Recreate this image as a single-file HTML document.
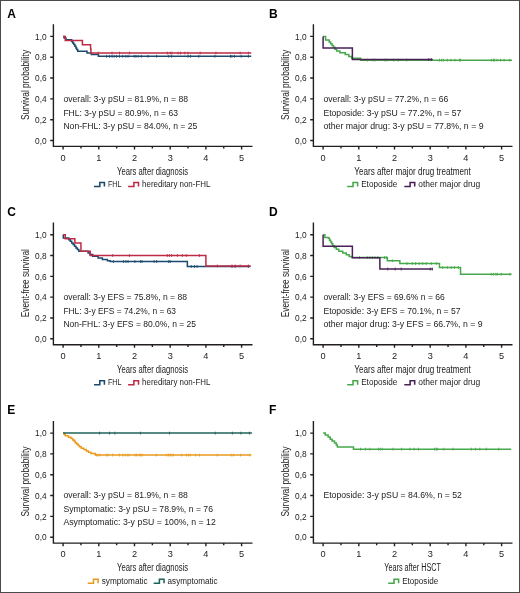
<!DOCTYPE html>
<html><head><meta charset="utf-8"><style>
html,body{margin:0;padding:0;background:#fff;}
svg{display:block;font-family:"Liberation Sans", sans-serif;will-change:transform;}
</style></head><body>
<svg width="520" height="593" viewBox="0 0 520 593">
<rect x="0" y="0" width="520" height="593" fill="#fff"/>
<rect x="0.5" y="0.5" width="519" height="592" fill="none" stroke="#4a4a4a" stroke-width="1"/>
<text x="7.30" y="17.50" font-size="12" font-weight="bold" fill="#000">A</text>
<path d="M53.40 24.20 V146.40 H252.50" fill="none" stroke="#231f20" stroke-width="1.4"/>
<text x="46.70" y="143.70" font-size="9.2" text-anchor="end" textLength="11.6" lengthAdjust="spacingAndGlyphs" fill="#222222">0,0</text>
<text x="46.70" y="122.88" font-size="9.2" text-anchor="end" textLength="11.6" lengthAdjust="spacingAndGlyphs" fill="#222222">0,2</text>
<text x="46.70" y="102.06" font-size="9.2" text-anchor="end" textLength="11.6" lengthAdjust="spacingAndGlyphs" fill="#222222">0,4</text>
<text x="46.70" y="81.24" font-size="9.2" text-anchor="end" textLength="11.6" lengthAdjust="spacingAndGlyphs" fill="#222222">0,6</text>
<text x="46.70" y="60.42" font-size="9.2" text-anchor="end" textLength="11.6" lengthAdjust="spacingAndGlyphs" fill="#222222">0,8</text>
<text x="46.70" y="39.60" font-size="9.2" text-anchor="end" textLength="11.6" lengthAdjust="spacingAndGlyphs" fill="#222222">1,0</text>
<text x="63.10" y="160.50" font-size="9.2" text-anchor="middle" fill="#222222">0</text>
<text x="98.80" y="160.50" font-size="9.2" text-anchor="middle" fill="#222222">1</text>
<text x="134.50" y="160.50" font-size="9.2" text-anchor="middle" fill="#222222">2</text>
<text x="170.20" y="160.50" font-size="9.2" text-anchor="middle" fill="#222222">3</text>
<text x="205.90" y="160.50" font-size="9.2" text-anchor="middle" fill="#222222">4</text>
<text x="241.60" y="160.50" font-size="9.2" text-anchor="middle" fill="#222222">5</text>
<path d="M50.20 140.50 H53.40 M50.20 119.68 H53.40 M50.20 98.86 H53.40 M50.20 78.04 H53.40 M50.20 57.22 H53.40 M50.20 36.40 H53.40 M63.10 146.40 V149.50 M80.95 146.40 V148.60 M98.80 146.40 V149.50 M116.65 146.40 V148.60 M134.50 146.40 V149.50 M152.35 146.40 V148.60 M170.20 146.40 V149.50 M188.05 146.40 V148.60 M205.90 146.40 V149.50 M223.75 146.40 V148.60 M241.60 146.40 V149.50" fill="none" stroke="#231f20" stroke-width="1.4"/>
<text transform="translate(28.60,84.90) rotate(-90)" x="0" y="0" font-size="10" text-anchor="middle" textLength="70" lengthAdjust="spacingAndGlyphs" fill="#222222">Survival probability</text>
<text x="152.60" y="174.70" font-size="10" text-anchor="middle" textLength="71.2" lengthAdjust="spacingAndGlyphs" fill="#222222">Years after diagnosis</text>
<text x="63.40" y="101.60" font-size="8.6" textLength="124.7" lengthAdjust="spacingAndGlyphs" fill="#222222">overall: 3-y pSU = 81.9%, n = 88</text>
<text x="63.40" y="115.70" font-size="8.6" textLength="114.6" lengthAdjust="spacingAndGlyphs" fill="#222222">FHL: 3-y pSU = 80.9%, n = 63</text>
<text x="63.40" y="128.60" font-size="8.6" textLength="133.9" lengthAdjust="spacingAndGlyphs" fill="#222222">Non-FHL: 3-y pSU = 84.0%, n = 25</text>
<path d="M94.00 186.50 H99.80 V182.50 H104.40 V186.50" fill="none" stroke="#1b4a6e" stroke-width="1.55"/>
<text x="108.00" y="187.10" font-size="8.3" textLength="13.5" lengthAdjust="spacingAndGlyphs" fill="#222222">FHL</text>
<path d="M128.10 186.50 H133.90 V182.50 H138.50 V186.50" fill="none" stroke="#bd2b46" stroke-width="1.55"/>
<text x="142.10" y="187.10" font-size="8.3" textLength="68.3" lengthAdjust="spacingAndGlyphs" fill="#222222">hereditary non-FHL</text>
<path d="M63.10 36.40 H64.17 V38.07 H65.96 V39.73 H71.67 V41.40 H72.74 V42.96 H73.81 V44.62 H74.88 V46.29 H75.95 V47.96 H76.67 V49.62 H77.74 V51.29 H87.02 V52.95 H91.30 V54.62 H98.44 V56.28 H251.24" fill="none" stroke="#1b4a6e" stroke-width="1.5" stroke-linejoin="miter"/>
<path d="M106.65 54.88 V57.68 M109.51 54.88 V57.68 M112.01 54.88 V57.68 M114.15 54.88 V57.68 M116.65 54.88 V57.68 M119.51 54.88 V57.68 M122.72 54.88 V57.68 M125.93 54.88 V57.68 M128.07 54.88 V57.68 M134.14 54.88 V57.68 M135.93 54.88 V57.68 M138.07 54.88 V57.68 M141.28 54.88 V57.68 M148.07 54.88 V57.68 M156.63 54.88 V57.68 M168.77 54.88 V57.68 M171.63 54.88 V57.68 M188.05 54.88 V57.68 M190.55 54.88 V57.68 M198.76 54.88 V57.68 M214.83 54.88 V57.68 M230.53 54.88 V57.68 M231.96 54.88 V57.68 M234.46 54.88 V57.68 M241.24 54.88 V57.68 M248.38 54.88 V57.68" fill="none" stroke="#1b4a6e" stroke-width="0.9"/>
<path d="M63.10 36.40 H65.24 V40.56 H82.38 V44.73 H90.59 V48.89 H90.95 V53.06 H251.24" fill="none" stroke="#bd2b46" stroke-width="1.5" stroke-linejoin="miter"/>
<path d="M98.09 51.66 V54.46 M112.01 51.66 V54.46 M119.51 51.66 V54.46 M129.50 51.66 V54.46 M167.34 51.66 V54.46 M170.20 51.66 V54.46 M171.99 51.66 V54.46 M178.05 51.66 V54.46 M180.55 51.66 V54.46 M184.84 51.66 V54.46 M188.05 51.66 V54.46 M200.19 51.66 V54.46 M215.90 51.66 V54.46 M240.17 51.66 V54.46 M248.38 51.66 V54.46" fill="none" stroke="#bd2b46" stroke-width="0.9"/>
<text x="268.90" y="17.50" font-size="12" font-weight="bold" fill="#000">B</text>
<path d="M313.40 24.20 V146.40 H512.50" fill="none" stroke="#231f20" stroke-width="1.4"/>
<text x="306.70" y="143.70" font-size="9.2" text-anchor="end" textLength="11.6" lengthAdjust="spacingAndGlyphs" fill="#222222">0,0</text>
<text x="306.70" y="122.88" font-size="9.2" text-anchor="end" textLength="11.6" lengthAdjust="spacingAndGlyphs" fill="#222222">0,2</text>
<text x="306.70" y="102.06" font-size="9.2" text-anchor="end" textLength="11.6" lengthAdjust="spacingAndGlyphs" fill="#222222">0,4</text>
<text x="306.70" y="81.24" font-size="9.2" text-anchor="end" textLength="11.6" lengthAdjust="spacingAndGlyphs" fill="#222222">0,6</text>
<text x="306.70" y="60.42" font-size="9.2" text-anchor="end" textLength="11.6" lengthAdjust="spacingAndGlyphs" fill="#222222">0,8</text>
<text x="306.70" y="39.60" font-size="9.2" text-anchor="end" textLength="11.6" lengthAdjust="spacingAndGlyphs" fill="#222222">1,0</text>
<text x="323.10" y="160.50" font-size="9.2" text-anchor="middle" fill="#222222">0</text>
<text x="358.80" y="160.50" font-size="9.2" text-anchor="middle" fill="#222222">1</text>
<text x="394.50" y="160.50" font-size="9.2" text-anchor="middle" fill="#222222">2</text>
<text x="430.20" y="160.50" font-size="9.2" text-anchor="middle" fill="#222222">3</text>
<text x="465.90" y="160.50" font-size="9.2" text-anchor="middle" fill="#222222">4</text>
<text x="501.60" y="160.50" font-size="9.2" text-anchor="middle" fill="#222222">5</text>
<path d="M310.20 140.50 H313.40 M310.20 119.68 H313.40 M310.20 98.86 H313.40 M310.20 78.04 H313.40 M310.20 57.22 H313.40 M310.20 36.40 H313.40 M323.10 146.40 V149.50 M340.95 146.40 V148.60 M358.80 146.40 V149.50 M376.65 146.40 V148.60 M394.50 146.40 V149.50 M412.35 146.40 V148.60 M430.20 146.40 V149.50 M448.05 146.40 V148.60 M465.90 146.40 V149.50 M483.75 146.40 V148.60 M501.60 146.40 V149.50" fill="none" stroke="#231f20" stroke-width="1.4"/>
<text transform="translate(288.60,84.90) rotate(-90)" x="0" y="0" font-size="10" text-anchor="middle" textLength="70" lengthAdjust="spacingAndGlyphs" fill="#222222">Survival probability</text>
<text x="412.60" y="174.70" font-size="10" text-anchor="middle" textLength="116.5" lengthAdjust="spacingAndGlyphs" fill="#222222">Years after major drug treatment</text>
<text x="323.40" y="101.60" font-size="8.6" textLength="124.9" lengthAdjust="spacingAndGlyphs" fill="#222222">overall: 3-y pSU = 77.2%, n = 66</text>
<text x="323.40" y="115.70" font-size="8.6" textLength="137.9" lengthAdjust="spacingAndGlyphs" fill="#222222">Etoposide: 3-y pSU = 77.2%, n = 57</text>
<text x="323.40" y="128.60" font-size="8.6" textLength="160.2" lengthAdjust="spacingAndGlyphs" fill="#222222">other major drug: 3-y pSU = 77.8%, n = 9</text>
<path d="M347.20 186.50 H353.00 V182.50 H357.60 V186.50" fill="none" stroke="#47a84b" stroke-width="1.55"/>
<text x="361.20" y="187.10" font-size="8.3" textLength="36.2" lengthAdjust="spacingAndGlyphs" fill="#222222">Etoposide</text>
<path d="M404.30 186.50 H410.10 V182.50 H414.70 V186.50" fill="none" stroke="#4a2156" stroke-width="1.55"/>
<text x="418.30" y="187.10" font-size="8.3" textLength="61.8" lengthAdjust="spacingAndGlyphs" fill="#222222">other major drug</text>
<path d="M323.10 36.40 H325.60 V40.04 H329.17 V41.92 H330.60 V43.69 H332.03 V45.56 H333.45 V47.33 H334.88 V49.20 H336.67 V50.97 H339.88 V52.85 H345.23 V54.62 H348.80 V56.49 H351.66 V58.26 H360.59 V60.13 H511.95" fill="none" stroke="#47a84b" stroke-width="1.5" stroke-linejoin="miter"/>
<path d="M367.37 58.73 V61.53 M372.72 58.73 V61.53 M374.87 58.73 V61.53 M384.86 58.73 V61.53 M386.65 58.73 V61.53 M393.43 58.73 V61.53 M398.07 58.73 V61.53 M406.64 58.73 V61.53 M439.48 58.73 V61.53 M441.62 58.73 V61.53 M443.41 58.73 V61.53 M447.34 58.73 V61.53 M450.91 58.73 V61.53 M454.83 58.73 V61.53 M459.47 58.73 V61.53 M460.55 58.73 V61.53 M491.25 58.73 V61.53 M493.39 58.73 V61.53 M494.46 58.73 V61.53 M496.96 58.73 V61.53 M500.53 58.73 V61.53 M504.10 58.73 V61.53 M509.81 58.73 V61.53" fill="none" stroke="#47a84b" stroke-width="0.9"/>
<path d="M323.10 36.40 H323.10 V47.96 H352.37 V59.51 H432.70" fill="none" stroke="#4a2156" stroke-width="1.5" stroke-linejoin="miter"/>
<path d="M428.77 58.11 V60.91 M431.27 58.11 V60.91" fill="none" stroke="#4a2156" stroke-width="0.9"/>
<text x="7.30" y="215.80" font-size="12" font-weight="bold" fill="#000">C</text>
<path d="M53.40 222.50 V344.70 H252.50" fill="none" stroke="#231f20" stroke-width="1.4"/>
<text x="46.70" y="342.00" font-size="9.2" text-anchor="end" textLength="11.6" lengthAdjust="spacingAndGlyphs" fill="#222222">0,0</text>
<text x="46.70" y="321.18" font-size="9.2" text-anchor="end" textLength="11.6" lengthAdjust="spacingAndGlyphs" fill="#222222">0,2</text>
<text x="46.70" y="300.36" font-size="9.2" text-anchor="end" textLength="11.6" lengthAdjust="spacingAndGlyphs" fill="#222222">0,4</text>
<text x="46.70" y="279.54" font-size="9.2" text-anchor="end" textLength="11.6" lengthAdjust="spacingAndGlyphs" fill="#222222">0,6</text>
<text x="46.70" y="258.72" font-size="9.2" text-anchor="end" textLength="11.6" lengthAdjust="spacingAndGlyphs" fill="#222222">0,8</text>
<text x="46.70" y="237.90" font-size="9.2" text-anchor="end" textLength="11.6" lengthAdjust="spacingAndGlyphs" fill="#222222">1,0</text>
<text x="63.10" y="358.80" font-size="9.2" text-anchor="middle" fill="#222222">0</text>
<text x="98.80" y="358.80" font-size="9.2" text-anchor="middle" fill="#222222">1</text>
<text x="134.50" y="358.80" font-size="9.2" text-anchor="middle" fill="#222222">2</text>
<text x="170.20" y="358.80" font-size="9.2" text-anchor="middle" fill="#222222">3</text>
<text x="205.90" y="358.80" font-size="9.2" text-anchor="middle" fill="#222222">4</text>
<text x="241.60" y="358.80" font-size="9.2" text-anchor="middle" fill="#222222">5</text>
<path d="M50.20 338.80 H53.40 M50.20 317.98 H53.40 M50.20 297.16 H53.40 M50.20 276.34 H53.40 M50.20 255.52 H53.40 M50.20 234.70 H53.40 M63.10 344.70 V347.80 M80.95 344.70 V346.90 M98.80 344.70 V347.80 M116.65 344.70 V346.90 M134.50 344.70 V347.80 M152.35 344.70 V346.90 M170.20 344.70 V347.80 M188.05 344.70 V346.90 M205.90 344.70 V347.80 M223.75 344.70 V346.90 M241.60 344.70 V347.80" fill="none" stroke="#231f20" stroke-width="1.4"/>
<text transform="translate(28.60,283.20) rotate(-90)" x="0" y="0" font-size="10" text-anchor="middle" textLength="68" lengthAdjust="spacingAndGlyphs" fill="#222222">Event-free survival</text>
<text x="152.60" y="373.00" font-size="10" text-anchor="middle" textLength="71.2" lengthAdjust="spacingAndGlyphs" fill="#222222">Years after diagnosis</text>
<text x="63.40" y="299.90" font-size="8.6" textLength="123.5" lengthAdjust="spacingAndGlyphs" fill="#222222">overall: 3-y EFS = 75.8%, n = 88</text>
<text x="63.40" y="314.00" font-size="8.6" textLength="112.6" lengthAdjust="spacingAndGlyphs" fill="#222222">FHL: 3-y EFS = 74.2%, n = 63</text>
<text x="63.40" y="326.90" font-size="8.6" textLength="132.7" lengthAdjust="spacingAndGlyphs" fill="#222222">Non-FHL: 3-y EFS = 80.0%, n = 25</text>
<path d="M94.00 384.80 H99.80 V380.80 H104.40 V384.80" fill="none" stroke="#1b4a6e" stroke-width="1.55"/>
<text x="108.00" y="385.40" font-size="8.3" textLength="13.5" lengthAdjust="spacingAndGlyphs" fill="#222222">FHL</text>
<path d="M128.10 384.80 H133.90 V380.80 H138.50 V384.80" fill="none" stroke="#bd2b46" stroke-width="1.55"/>
<text x="142.10" y="385.40" font-size="8.3" textLength="68.3" lengthAdjust="spacingAndGlyphs" fill="#222222">hereditary non-FHL</text>
<path d="M63.10 234.70 H63.28 V238.03 H68.81 V239.70 H70.24 V241.26 H71.67 V242.92 H73.10 V244.59 H74.52 V246.26 H75.95 V247.92 H77.38 V249.59 H78.81 V251.25 H88.09 V252.92 H89.88 V254.58 H92.73 V256.25 H98.09 V257.91 H102.37 V259.48 H107.37 V260.73 H110.22 V261.56 H187.34 V266.45 H250.53" fill="none" stroke="#1b4a6e" stroke-width="1.5" stroke-linejoin="miter"/>
<path d="M113.44 260.16 V262.96 M123.43 260.16 V262.96 M125.93 260.16 V262.96 M128.07 260.16 V262.96 M134.86 260.16 V262.96 M140.57 260.16 V262.96 M142.00 260.16 V262.96 M154.13 260.16 V262.96 M156.63 260.16 V262.96 M168.77 260.16 V262.96 M170.20 260.16 V262.96 M191.26 265.05 V267.85 M194.48 265.05 V267.85 M196.97 265.05 V267.85 M231.96 265.05 V267.85 M235.17 265.05 V267.85 M248.38 265.05 V267.85" fill="none" stroke="#1b4a6e" stroke-width="0.9"/>
<path d="M63.10 234.70 H65.24 V238.66 H74.88 V243.03 H80.95 V251.36 H90.23 V255.52 H205.90 V265.93 H250.53" fill="none" stroke="#bd2b46" stroke-width="1.5" stroke-linejoin="miter"/>
<path d="M112.72 254.12 V256.92 M129.50 254.12 V256.92 M167.34 254.12 V256.92 M169.49 254.12 V256.92 M171.63 254.12 V256.92 M177.34 254.12 V256.92 M182.34 254.12 V256.92 M186.27 254.12 V256.92 M199.47 254.12 V256.92 M217.32 264.53 V267.33 M231.96 264.53 V267.33 M235.17 264.53 V267.33 M240.17 264.53 V267.33 M248.38 264.53 V267.33" fill="none" stroke="#bd2b46" stroke-width="0.9"/>
<text x="268.90" y="215.80" font-size="12" font-weight="bold" fill="#000">D</text>
<path d="M313.40 222.50 V344.70 H512.50" fill="none" stroke="#231f20" stroke-width="1.4"/>
<text x="306.70" y="342.00" font-size="9.2" text-anchor="end" textLength="11.6" lengthAdjust="spacingAndGlyphs" fill="#222222">0,0</text>
<text x="306.70" y="321.18" font-size="9.2" text-anchor="end" textLength="11.6" lengthAdjust="spacingAndGlyphs" fill="#222222">0,2</text>
<text x="306.70" y="300.36" font-size="9.2" text-anchor="end" textLength="11.6" lengthAdjust="spacingAndGlyphs" fill="#222222">0,4</text>
<text x="306.70" y="279.54" font-size="9.2" text-anchor="end" textLength="11.6" lengthAdjust="spacingAndGlyphs" fill="#222222">0,6</text>
<text x="306.70" y="258.72" font-size="9.2" text-anchor="end" textLength="11.6" lengthAdjust="spacingAndGlyphs" fill="#222222">0,8</text>
<text x="306.70" y="237.90" font-size="9.2" text-anchor="end" textLength="11.6" lengthAdjust="spacingAndGlyphs" fill="#222222">1,0</text>
<text x="323.10" y="358.80" font-size="9.2" text-anchor="middle" fill="#222222">0</text>
<text x="358.80" y="358.80" font-size="9.2" text-anchor="middle" fill="#222222">1</text>
<text x="394.50" y="358.80" font-size="9.2" text-anchor="middle" fill="#222222">2</text>
<text x="430.20" y="358.80" font-size="9.2" text-anchor="middle" fill="#222222">3</text>
<text x="465.90" y="358.80" font-size="9.2" text-anchor="middle" fill="#222222">4</text>
<text x="501.60" y="358.80" font-size="9.2" text-anchor="middle" fill="#222222">5</text>
<path d="M310.20 338.80 H313.40 M310.20 317.98 H313.40 M310.20 297.16 H313.40 M310.20 276.34 H313.40 M310.20 255.52 H313.40 M310.20 234.70 H313.40 M323.10 344.70 V347.80 M340.95 344.70 V346.90 M358.80 344.70 V347.80 M376.65 344.70 V346.90 M394.50 344.70 V347.80 M412.35 344.70 V346.90 M430.20 344.70 V347.80 M448.05 344.70 V346.90 M465.90 344.70 V347.80 M483.75 344.70 V346.90 M501.60 344.70 V347.80" fill="none" stroke="#231f20" stroke-width="1.4"/>
<text transform="translate(288.60,283.20) rotate(-90)" x="0" y="0" font-size="10" text-anchor="middle" textLength="68" lengthAdjust="spacingAndGlyphs" fill="#222222">Event-free survival</text>
<text x="412.60" y="373.00" font-size="10" text-anchor="middle" textLength="116.5" lengthAdjust="spacingAndGlyphs" fill="#222222">Years after major drug treatment</text>
<text x="323.40" y="299.90" font-size="8.6" textLength="121.4" lengthAdjust="spacingAndGlyphs" fill="#222222">overall: 3-y EFS = 69.6% n = 66</text>
<text x="323.40" y="314.00" font-size="8.6" textLength="137.2" lengthAdjust="spacingAndGlyphs" fill="#222222">Etoposide: 3-y EFS = 70.1%, n = 57</text>
<text x="323.40" y="326.90" font-size="8.6" textLength="159.1" lengthAdjust="spacingAndGlyphs" fill="#222222">other major drug: 3-y EFS = 66.7%, n = 9</text>
<path d="M347.20 384.80 H353.00 V380.80 H357.60 V384.80" fill="none" stroke="#47a84b" stroke-width="1.55"/>
<text x="361.20" y="385.40" font-size="8.3" textLength="36.2" lengthAdjust="spacingAndGlyphs" fill="#222222">Etoposide</text>
<path d="M404.30 384.80 H410.10 V380.80 H414.70 V384.80" fill="none" stroke="#4a2156" stroke-width="1.55"/>
<text x="418.30" y="385.40" font-size="8.3" textLength="61.8" lengthAdjust="spacingAndGlyphs" fill="#222222">other major drug</text>
<path d="M323.10 234.70 H324.89 V237.51 H328.46 V238.34 H329.53 V240.22 H330.60 V241.99 H331.67 V243.86 H332.74 V245.63 H334.17 V247.50 H336.31 V249.27 H338.81 V251.15 H342.74 V252.92 H346.31 V254.79 H349.16 V256.56 H352.02 V257.60 H387.36 V260.73 H399.86 V263.54 H439.48 V267.49 H460.55 V274.26 H511.60" fill="none" stroke="#47a84b" stroke-width="1.5" stroke-linejoin="miter"/>
<path d="M359.51 256.20 V259.00 M367.37 256.20 V259.00 M369.87 256.20 V259.00 M372.37 256.20 V259.00 M374.87 256.20 V259.00 M377.72 256.20 V259.00 M384.50 256.20 V259.00 M386.29 256.20 V259.00 M392.36 259.33 V262.12 M407.00 262.14 V264.94 M412.35 262.14 V264.94 M415.56 262.14 V264.94 M419.13 262.14 V264.94 M422.70 262.14 V264.94 M426.27 262.14 V264.94 M431.27 262.14 V264.94 M436.63 262.14 V264.94 M442.70 266.09 V268.89 M447.34 266.09 V268.89 M451.26 266.09 V268.89 M454.48 266.09 V268.89 M458.40 266.09 V268.89 M491.25 272.86 V275.66 M493.39 272.86 V275.66 M495.89 272.86 V275.66 M497.32 272.86 V275.66 M501.24 272.86 V275.66 M509.81 272.86 V275.66" fill="none" stroke="#47a84b" stroke-width="0.9"/>
<path d="M323.10 234.70 H323.10 V246.26 H352.37 V257.81 H379.86 V269.05 H432.70" fill="none" stroke="#4a2156" stroke-width="1.5" stroke-linejoin="miter"/>
<path d="M387.72 267.65 V270.45 M395.21 267.65 V270.45 M401.28 267.65 V270.45 M430.20 267.65 V270.45 M432.34 267.65 V270.45" fill="none" stroke="#4a2156" stroke-width="0.9"/>
<text x="7.30" y="414.20" font-size="12" font-weight="bold" fill="#000">E</text>
<path d="M53.40 420.90 V543.10 H252.50" fill="none" stroke="#231f20" stroke-width="1.4"/>
<text x="46.70" y="540.40" font-size="9.2" text-anchor="end" textLength="11.6" lengthAdjust="spacingAndGlyphs" fill="#222222">0,0</text>
<text x="46.70" y="519.58" font-size="9.2" text-anchor="end" textLength="11.6" lengthAdjust="spacingAndGlyphs" fill="#222222">0,2</text>
<text x="46.70" y="498.76" font-size="9.2" text-anchor="end" textLength="11.6" lengthAdjust="spacingAndGlyphs" fill="#222222">0,4</text>
<text x="46.70" y="477.94" font-size="9.2" text-anchor="end" textLength="11.6" lengthAdjust="spacingAndGlyphs" fill="#222222">0,6</text>
<text x="46.70" y="457.12" font-size="9.2" text-anchor="end" textLength="11.6" lengthAdjust="spacingAndGlyphs" fill="#222222">0,8</text>
<text x="46.70" y="436.30" font-size="9.2" text-anchor="end" textLength="11.6" lengthAdjust="spacingAndGlyphs" fill="#222222">1,0</text>
<text x="63.10" y="557.20" font-size="9.2" text-anchor="middle" fill="#222222">0</text>
<text x="98.80" y="557.20" font-size="9.2" text-anchor="middle" fill="#222222">1</text>
<text x="134.50" y="557.20" font-size="9.2" text-anchor="middle" fill="#222222">2</text>
<text x="170.20" y="557.20" font-size="9.2" text-anchor="middle" fill="#222222">3</text>
<text x="205.90" y="557.20" font-size="9.2" text-anchor="middle" fill="#222222">4</text>
<text x="241.60" y="557.20" font-size="9.2" text-anchor="middle" fill="#222222">5</text>
<path d="M50.20 537.20 H53.40 M50.20 516.38 H53.40 M50.20 495.56 H53.40 M50.20 474.74 H53.40 M50.20 453.92 H53.40 M50.20 433.10 H53.40 M63.10 543.10 V546.20 M80.95 543.10 V545.30 M98.80 543.10 V546.20 M116.65 543.10 V545.30 M134.50 543.10 V546.20 M152.35 543.10 V545.30 M170.20 543.10 V546.20 M188.05 543.10 V545.30 M205.90 543.10 V546.20 M223.75 543.10 V545.30 M241.60 543.10 V546.20" fill="none" stroke="#231f20" stroke-width="1.4"/>
<text transform="translate(28.60,481.60) rotate(-90)" x="0" y="0" font-size="10" text-anchor="middle" textLength="70" lengthAdjust="spacingAndGlyphs" fill="#222222">Survival probability</text>
<text x="152.60" y="571.40" font-size="10" text-anchor="middle" textLength="71.2" lengthAdjust="spacingAndGlyphs" fill="#222222">Years after diagnosis</text>
<text x="63.40" y="498.30" font-size="8.6" textLength="124.4" lengthAdjust="spacingAndGlyphs" fill="#222222">overall: 3-y pSU = 81.9%, n = 88</text>
<text x="63.40" y="512.40" font-size="8.6" textLength="149.6" lengthAdjust="spacingAndGlyphs" fill="#222222">Symptomatic: 3-y pSU = 78.9%, n = 76</text>
<text x="63.40" y="525.30" font-size="8.6" textLength="152.4" lengthAdjust="spacingAndGlyphs" fill="#222222">Asymptomatic: 3-y pSU = 100%, n = 12</text>
<path d="M87.70 583.20 H93.50 V579.20 H98.10 V583.20" fill="none" stroke="#e99b1f" stroke-width="1.55"/>
<text x="101.70" y="583.80" font-size="8.3" textLength="46" lengthAdjust="spacingAndGlyphs" fill="#222222">symptomatic</text>
<path d="M153.60 583.20 H159.40 V579.20 H164.00 V583.20" fill="none" stroke="#1f6358" stroke-width="1.55"/>
<text x="167.60" y="583.80" font-size="8.3" textLength="50" lengthAdjust="spacingAndGlyphs" fill="#222222">asymptomatic</text>
<path d="M63.10 433.10 H64.17 V434.45 H65.24 V435.81 H68.45 V437.16 H70.95 V438.62 H72.74 V439.97 H74.17 V441.32 H75.24 V442.68 H76.67 V444.03 H78.09 V445.38 H79.52 V446.84 H81.31 V448.19 H83.81 V449.55 H86.31 V450.90 H88.45 V452.25 H90.95 V453.61 H95.23 V455.07 H251.24" fill="none" stroke="#e99b1f" stroke-width="1.5" stroke-linejoin="miter"/>
<path d="M96.66 453.67 V456.47 M98.09 453.67 V456.47 M99.87 453.67 V456.47 M106.30 453.67 V456.47 M108.08 453.67 V456.47 M112.72 453.67 V456.47 M119.51 453.67 V456.47 M122.72 453.67 V456.47 M125.22 453.67 V456.47 M127.72 453.67 V456.47 M129.15 453.67 V456.47 M134.86 453.67 V456.47 M136.64 453.67 V456.47 M139.14 453.67 V456.47 M140.57 453.67 V456.47 M142.35 453.67 V456.47 M156.28 453.67 V456.47 M166.63 453.67 V456.47 M168.42 453.67 V456.47 M170.20 453.67 V456.47 M171.63 453.67 V456.47 M173.41 453.67 V456.47 M181.62 453.67 V456.47 M186.27 453.67 V456.47 M188.41 453.67 V456.47 M190.19 453.67 V456.47 M195.55 453.67 V456.47 M199.47 453.67 V456.47 M217.32 453.67 V456.47 M231.25 453.67 V456.47 M233.39 453.67 V456.47 M240.53 453.67 V456.47 M249.81 453.67 V456.47" fill="none" stroke="#e99b1f" stroke-width="0.9"/>
<path d="M63.10 433.10 H251.95" fill="none" stroke="#1f6358" stroke-width="1.5" stroke-linejoin="miter"/>
<path d="M99.51 431.70 V434.50 M109.51 431.70 V434.50 M114.87 431.70 V434.50 M140.57 431.70 V434.50 M169.49 431.70 V434.50 M215.18 431.70 V434.50 M232.32 431.70 V434.50 M240.89 431.70 V434.50 M249.45 431.70 V434.50" fill="none" stroke="#1f6358" stroke-width="0.9"/>
<text x="268.90" y="414.20" font-size="12" font-weight="bold" fill="#000">F</text>
<path d="M313.40 420.90 V543.10 H512.50" fill="none" stroke="#231f20" stroke-width="1.4"/>
<text x="306.70" y="540.40" font-size="9.2" text-anchor="end" textLength="11.6" lengthAdjust="spacingAndGlyphs" fill="#222222">0,0</text>
<text x="306.70" y="519.58" font-size="9.2" text-anchor="end" textLength="11.6" lengthAdjust="spacingAndGlyphs" fill="#222222">0,2</text>
<text x="306.70" y="498.76" font-size="9.2" text-anchor="end" textLength="11.6" lengthAdjust="spacingAndGlyphs" fill="#222222">0,4</text>
<text x="306.70" y="477.94" font-size="9.2" text-anchor="end" textLength="11.6" lengthAdjust="spacingAndGlyphs" fill="#222222">0,6</text>
<text x="306.70" y="457.12" font-size="9.2" text-anchor="end" textLength="11.6" lengthAdjust="spacingAndGlyphs" fill="#222222">0,8</text>
<text x="306.70" y="436.30" font-size="9.2" text-anchor="end" textLength="11.6" lengthAdjust="spacingAndGlyphs" fill="#222222">1,0</text>
<text x="323.10" y="557.20" font-size="9.2" text-anchor="middle" fill="#222222">0</text>
<text x="358.80" y="557.20" font-size="9.2" text-anchor="middle" fill="#222222">1</text>
<text x="394.50" y="557.20" font-size="9.2" text-anchor="middle" fill="#222222">2</text>
<text x="430.20" y="557.20" font-size="9.2" text-anchor="middle" fill="#222222">3</text>
<text x="465.90" y="557.20" font-size="9.2" text-anchor="middle" fill="#222222">4</text>
<text x="501.60" y="557.20" font-size="9.2" text-anchor="middle" fill="#222222">5</text>
<path d="M310.20 537.20 H313.40 M310.20 516.38 H313.40 M310.20 495.56 H313.40 M310.20 474.74 H313.40 M310.20 453.92 H313.40 M310.20 433.10 H313.40 M323.10 543.10 V546.20 M340.95 543.10 V545.30 M358.80 543.10 V546.20 M376.65 543.10 V545.30 M394.50 543.10 V546.20 M412.35 543.10 V545.30 M430.20 543.10 V546.20 M448.05 543.10 V545.30 M465.90 543.10 V546.20 M483.75 543.10 V545.30 M501.60 543.10 V546.20" fill="none" stroke="#231f20" stroke-width="1.4"/>
<text transform="translate(288.60,481.60) rotate(-90)" x="0" y="0" font-size="10" text-anchor="middle" textLength="70" lengthAdjust="spacingAndGlyphs" fill="#222222">Survival probability</text>
<text x="412.60" y="571.40" font-size="10" text-anchor="middle" textLength="56.6" lengthAdjust="spacingAndGlyphs" fill="#222222">Years after HSCT</text>
<text x="323.40" y="498.30" font-size="8.6" textLength="138.5" lengthAdjust="spacingAndGlyphs" fill="#222222">Etoposide: 3-y pSU = 84.6%, n = 52</text>
<path d="M388.20 583.20 H394.00 V579.20 H398.60 V583.20" fill="none" stroke="#47a84b" stroke-width="1.55"/>
<text x="402.20" y="583.80" font-size="8.3" textLength="36.0" lengthAdjust="spacingAndGlyphs" fill="#222222">Etoposide</text>
<path d="M323.10 433.10 H325.24 V435.08 H328.10 V437.06 H330.24 V439.14 H332.03 V441.12 H334.52 V443.09 H336.31 V445.07 H337.38 V447.05 H353.45 V449.13 H511.24" fill="none" stroke="#47a84b" stroke-width="1.5" stroke-linejoin="miter"/>
<path d="M360.59 447.73 V450.53 M365.58 447.73 V450.53 M369.87 447.73 V450.53 M378.44 447.73 V450.53 M380.22 447.73 V450.53 M382.36 447.73 V450.53 M393.07 447.73 V450.53 M401.64 447.73 V450.53 M409.85 447.73 V450.53 M414.13 447.73 V450.53 M418.42 447.73 V450.53 M434.48 447.73 V450.53 M436.27 447.73 V450.53 M437.34 447.73 V450.53 M443.77 447.73 V450.53 M453.05 447.73 V450.53 M471.26 447.73 V450.53 M475.54 447.73 V450.53 M479.82 447.73 V450.53 M486.25 447.73 V450.53 M498.74 447.73 V450.53" fill="none" stroke="#47a84b" stroke-width="0.9"/>
</svg>
</body></html>
